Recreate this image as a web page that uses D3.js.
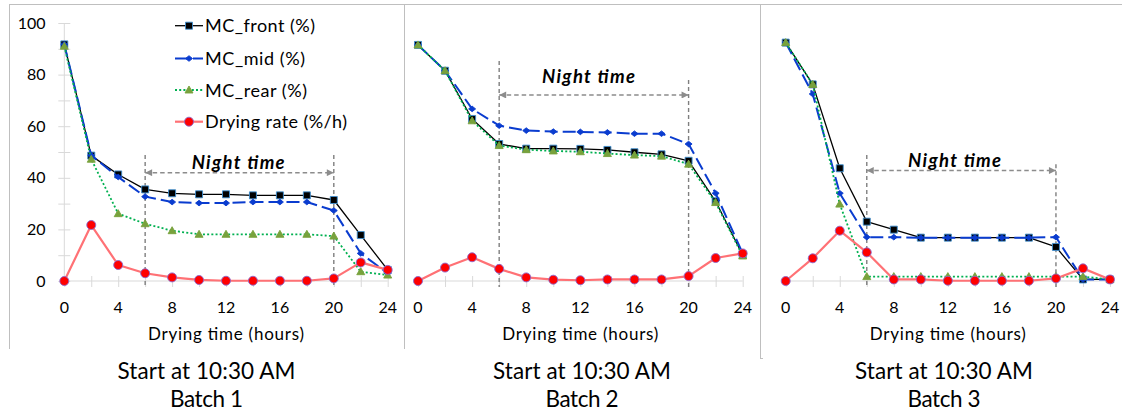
<!DOCTYPE html>
<html><head><meta charset="utf-8">
<script src="https://cdn.jsdelivr.net/npm/d3@7"></script>
<style>
body{margin:0;background:#fff}
svg{display:block}
text{font-family:Lato,"Liberation Sans",sans-serif;fill:#000}
</style>
</head><body>
<svg id="c" width="1122" height="414"></svg>
<script>
// ---------- data ----------
const hours = [0,2,4,6,8,10,12,14,16,18,20,22,24];
const xTickLabels = [0,4,8,12,16,20,24];
const yTickLabels = [0,20,40,60,80,100];
const seriesNames = ["MC_front (%)","MC_mid (%)","MC_rear (%)","Drying rate (%/h)"];
const batchTitles = ["Batch 1","Batch 2","Batch 3"];
const startLabel = "Start at 10:30 AM";
const xAxisTitle = "Drying time (hours)";
const nightLabel = "Night time";

const front1 = [91.7,48.6,41.3,35.5,34.0,33.6,33.6,33.2,33.2,33.2,31.4,17.8,4.3];
const mid1   = [91.7,48.7,40.3,32.7,30.6,30.2,30.2,30.6,30.6,30.6,27.3,10.7,3.0];
const rear1  = [91.0,47.2,26.1,22.2,19.5,18.1,18.1,18.1,18.1,18.1,17.4,3.6,2.3];
const rate1  = [0,21.7,6.2,3.0,1.4,0.4,0.1,0.1,0.1,0.1,1.0,7.2,4.3];

const front2 = [91.5,81.5,62.8,53.1,51.3,51.3,51.2,50.8,49.9,49.1,46.6,30.9,10.1];
const mid2   = [91.5,81.5,66.7,60.2,58.3,57.9,57.8,57.6,57.1,57.1,53.1,34.0,10.7];
const rear2  = [91.5,81.5,62.1,52.5,50.9,50.4,50.1,49.4,48.8,48.4,45.3,30.4,9.7];
const rate2  = [0,5.2,9.2,4.7,1.4,0.5,0.3,0.6,0.6,0.6,1.9,8.9,10.7];

const front3 = [92.4,76.2,43.7,23.0,19.9,16.8,16.8,16.8,16.8,16.8,13.2,0.6,0.6];
const mid3   = [92.4,72.5,34.0,17.0,17.0,16.8,16.8,16.8,16.8,16.8,17.0,0.6,0.6];
const rear3  = [92.4,76.2,29.8,1.7,1.7,1.7,1.7,1.7,1.7,1.7,1.7,1.7,0.6];
const rate3  = [0,8.8,19.5,11.1,0.6,0.6,0.1,0.1,0.1,0.1,1.0,4.9,0.6];

const nightStart = [6,6,6];
const nightEnd   = [20,20,20];

// ---------- layout / style ----------
const panels = [
  {series:[front1,mid1,rear1,rate1], area:[9,404], xr:[64.3,387.7], yAxis:true,
   night:{arrow:42, topL:48.8, topR:48.8, lab:43.4, labX:12.9}},
  {series:[front2,mid2,rear2,rate2], area:[404,760], xr:[418,742.7], yAxis:false,
   night:{arrow:72.1, topL:85.3, topR:77.9, lab:76.8, labX:12.6}},
  {series:[front3,mid3,rear3,rate3], area:[760,1128], xr:[785.7,1110], yAxis:false,
   night:{arrow:42.8, topL:48.8, topR:45.3, lab:44.3, labX:12.5}}
];
const styles = [
  {color:"#000000", width:1.3, dash:null, marker:"square", mfill:"#000", mstroke:"#3f8fd0", msize:7},
  {color:"#0a3ccf", width:2, dash:"13,5", marker:"diamond", mfill:"#0a3ccf", mstroke:"#0a3ccf", msize:7},
  {color:"#00b050", width:1.8, dash:"2,2.2", marker:"triangle", mfill:"#78a23c", mstroke:"#78a23c", msize:8},
  {color:"#ff7175", width:2.2, dash:null, marker:"circle", mfill:"#ff0000", mstroke:"#8a6bd0", msize:9}
];
const legendWidths = [110,100,102,142];
const axisGray = "#d9d9d9";
const borderGray = "#bfbfbf";

const svg = d3.select("#c");
const y = d3.scaleLinear().domain([0,100]).range([281,23]);

// chart borders
svg.append("line").attr("x1",9).attr("x2",1122).attr("y1",4.5).attr("y2",4.5).attr("stroke",borderGray);
[[9.5,349],[404.5,349],[760.5,358]].forEach(([bx,by])=>{
  svg.append("line").attr("x1",bx).attr("x2",bx).attr("y1",4).attr("y2",by).attr("stroke",borderGray);
});
svg.append("line").attr("x1",760).attr("x2",763).attr("y1",358.5).attr("y2",358.5).attr("stroke",borderGray);

function markerPath(type,s){
  if(type==="square") return d3.symbol(d3.symbolSquare, s*s)();
  if(type==="diamond"){const h=s/2;return `M0,${-h*0.8}L${h},0L0,${h*0.8}L${-h},0Z`;}
  if(type==="triangle"){const h=s/2;return `M0,${-h}L${h},${h*0.75}L${-h},${h*0.75}Z`;}
  return d3.symbol(d3.symbolCircle, Math.PI*(s/2)*(s/2))();
}
function fit(sel,w){ sel.attr("textLength",w).attr("lengthAdjust","spacing"); return sel; }

const defs = svg.append("defs");
defs.append("marker").attr("id","ah").attr("viewBox","0 0 10 10").attr("refX",10).attr("refY",5)
  .attr("markerWidth",10).attr("markerHeight",7).attr("markerUnits","userSpaceOnUse").attr("orient","auto-start-reverse")
  .append("path").attr("d","M0,0L10,5L0,10Z").attr("fill","#8c8c8c");

panels.forEach((p,pi)=>{
  const g = svg.append("g");
  const x = d3.scaleLinear().domain([0,24]).range(p.xr);

  const xa = g.append("g").attr("transform","translate(0,281)")
    .call(d3.axisBottom(x).tickValues(hours).tickSize(6).tickFormat(""));
  xa.select(".domain").attr("stroke",axisGray).attr("d",`M${p.xr[0]},0H${p.xr[1]}`);
  xa.selectAll(".tick line").attr("stroke",axisGray).attr("y1",-5).attr("y2",6);
  g.selectAll(".xl").data(xTickLabels).join("text").attr("class","xl")
    .attr("x",d=>x(d)).attr("y",312.5).attr("text-anchor","middle").attr("font-size",16).text(d=>d);

  if(p.yAxis){
    const ya = g.append("g").attr("transform",`translate(${p.xr[0]},0)`)
      .call(d3.axisLeft(y).tickValues(d3.range(0,101,10)).tickSize(6).tickFormat(""));
    ya.select(".domain").attr("stroke",axisGray).attr("d",`M0,${y(0)}V${y(100)}`);
    ya.selectAll(".tick line").attr("stroke",axisGray).attr("x1",6).attr("x2",-6);
    g.selectAll(".yl").data(yTickLabels).join("text").attr("class","yl")
      .attr("x",45.5).attr("y",d=>y(d)+5.6).attr("text-anchor","end").attr("font-size",16).text(d=>d);
  }

  const n = p.night, dashC="#7f7f7f";
  g.append("line").attr("x1",x(nightStart[pi])).attr("x2",x(nightStart[pi])).attr("y1",y(n.topL)).attr("y2",y(0)+6)
    .attr("stroke",dashC).attr("stroke-width",1.4).attr("stroke-dasharray","4,3");
  g.append("line").attr("x1",x(nightEnd[pi])).attr("x2",x(nightEnd[pi])).attr("y1",y(n.topR)).attr("y2",y(0)+6)
    .attr("stroke",dashC).attr("stroke-width",1.4).attr("stroke-dasharray","4,3");
  g.append("line").attr("x1",x(nightStart[pi])).attr("x2",x(nightEnd[pi])).attr("y1",y(n.arrow)).attr("y2",y(n.arrow))
    .attr("stroke","#8c8c8c").attr("stroke-width",1.5).attr("stroke-dasharray","4.5,3")
    .attr("marker-start","url(#ah)").attr("marker-end","url(#ah)");
  fit(g.append("text").attr("x",x(n.labX)).attr("y",y(n.lab)).attr("text-anchor","middle")
    .attr("font-size",18.5).attr("font-weight","bold").attr("font-style","italic").text(nightLabel),93);

  p.series.forEach((vals,si)=>{
    const st = styles[si];
    const pts = hours.map((h,i)=>[h,vals[i]]);
    g.append("path").datum(pts).attr("fill","none").attr("stroke",st.color).attr("stroke-width",st.width)
      .attr("stroke-dasharray",st.dash).attr("stroke-linejoin","round")
      .attr("d",d3.line().x(d=>x(d[0])).y(d=>y(d[1])));
    g.selectAll(null).data(pts).join("path")
      .attr("transform",d=>`translate(${x(d[0])},${y(d[1])})`)
      .attr("d",markerPath(st.marker,st.msize)).attr("fill",st.mfill).attr("stroke",st.mstroke).attr("stroke-width",0.9);
  });

  fit(g.append("text").attr("x",(p.xr[0]+p.xr[1])/2).attr("y",340).attr("text-anchor","middle")
    .attr("font-size",17).text(xAxisTitle),156);
  const cx = (p.area[0]+p.area[1])/2;
  fit(g.append("text").attr("x",cx).attr("y",379).attr("text-anchor","middle").attr("font-size",22.5).text(startLabel),178);
  fit(g.append("text").attr("x",cx).attr("y",407).attr("text-anchor","middle").attr("font-size",22.5).text(batchTitles[pi]),73);
});

const lg = svg.append("g");
const legRows = [25.7,58.5,90,121.7];
seriesNames.forEach((name,si)=>{
  const st = styles[si], ly = legRows[si];
  lg.append("line").attr("x1",175).attr("x2",203).attr("y1",ly).attr("y2",ly)
    .attr("stroke",st.color).attr("stroke-width",st.width).attr("stroke-dasharray",st.dash);
  lg.append("path").attr("transform",`translate(189,${ly})`).attr("d",markerPath(st.marker,st.msize))
    .attr("fill",st.mfill).attr("stroke",st.mstroke).attr("stroke-width",0.9);
  fit(lg.append("text").attr("x",205).attr("y",ly+6.5).attr("font-size",18).text(name),legendWidths[si]);
});
</script>
</body></html>
